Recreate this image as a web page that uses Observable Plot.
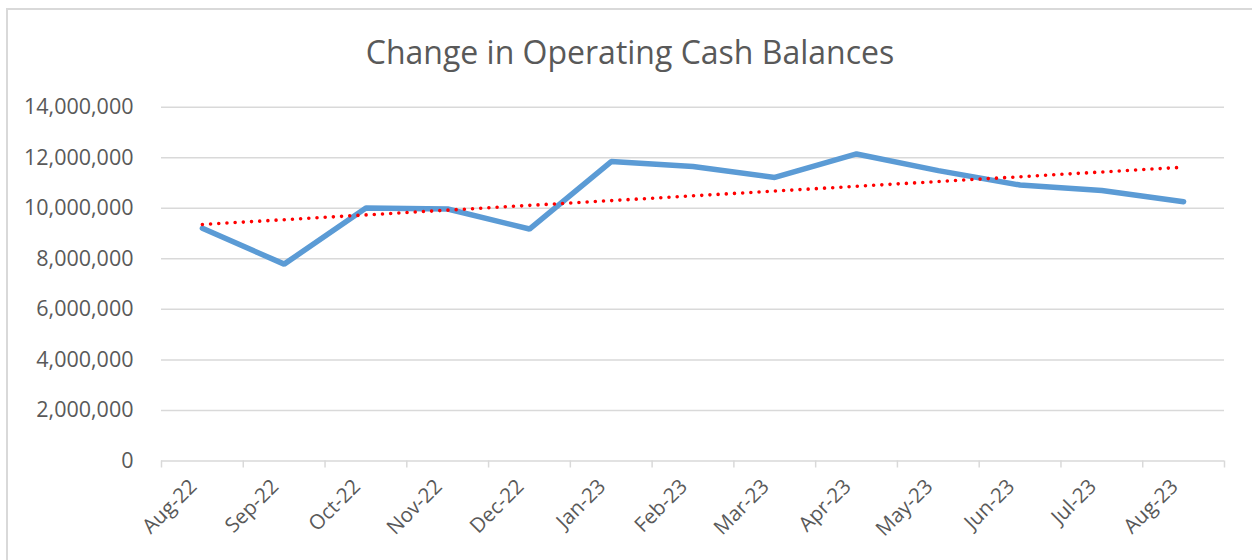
<!DOCTYPE html>
<html>
<head>
<meta charset="utf-8">
<script src="https://cdn.jsdelivr.net/npm/d3@7"></script>
<script src="https://cdn.jsdelivr.net/npm/@observablehq/plot@0.6"></script>
<style>
  html, body { margin: 0; padding: 0; background: #fff; }
  #wrap { position: relative; width: 1252px; height: 560px; overflow: hidden; font-family: "Open Sans", sans-serif; }
  #frame { position: absolute; left: 6px; top: 8px; right: -10px; bottom: -10px; border-top: 2px solid #D9D9D9; border-left: 2px solid #D9D9D9; pointer-events: none; }
  #title { height: 90px; box-sizing: border-box; padding-top: 32px; padding-left: 8px; text-align: center; font-size: 32px; color: #595959; line-height: 40px; }
  #chart svg { display: block; }
</style>
</head>
<body>
<div id="wrap">
  <div id="title">Change in Operating Cash Balances</div>
  <div id="chart"></div>
  <div id="frame"></div>
</div>
<script>
const months = ["Aug-22","Sep-22","Oct-22","Nov-22","Dec-22","Jan-23","Feb-23","Mar-23","Apr-23","May-23","Jun-23","Jul-23","Aug-23"];
const balances = [9210000, 7790000, 10010000, 9970000, 9180000, 11850000, 11650000, 11220000, 12150000, 11490000, 10920000, 10700000, 10260000];
const yTicks = [0, 2000000, 4000000, 6000000, 8000000, 10000000, 12000000, 14000000];

const data = months.map((m, i) => ({i, month: m, value: balances[i]}));
const idx = d3.range(months.length);
const bounds = d3.range(months.length + 1).map(k => k - 0.5);

const chart = Plot.plot({
  width: 1252,
  height: 470,
  marginLeft: 161,
  marginRight: 28,
  marginTop: 16.7,
  marginBottom: 99.5,
  style: {fontFamily: "'Open Sans', sans-serif", background: "transparent"},
  x: {type: "linear", domain: [-0.5, months.length - 0.5]},
  y: {domain: [0, 14000000]},
  marks: [
    Plot.ruleY(yTicks, {stroke: "#D9D9D9", strokeWidth: 1.5}),
    Plot.axisX({ticks: bounds, tickSize: 7, tickFormat: () => "", stroke: "#D9D9D9", strokeWidth: 1.5, label: null}),
    Plot.axisX({ticks: idx, tickSize: 0, tickPadding: 22, tickRotate: -45, tickFormat: i => months[i], fontSize: 20.5, color: "#595959", dx: -9, label: null}),
    Plot.axisY({ticks: yTicks, tickSize: 0, tickPadding: 28, tickFormat: d3.format(","), fontSize: 21.5, color: "#595959", label: null}),
    Plot.lineY(data, {x: "i", y: "value", stroke: "#5B9BD5", strokeWidth: 5.5, strokeLinejoin: "miter", strokeLinecap: "round"}),
    Plot.linearRegressionY(data, {x: "i", y: "value", stroke: "#FF0000", strokeWidth: 3.6, strokeDasharray: "0 8.2", strokeLinecap: "round", ci: 0})
  ]
});
document.getElementById("chart").appendChild(chart);
</script>
</body>
</html>
